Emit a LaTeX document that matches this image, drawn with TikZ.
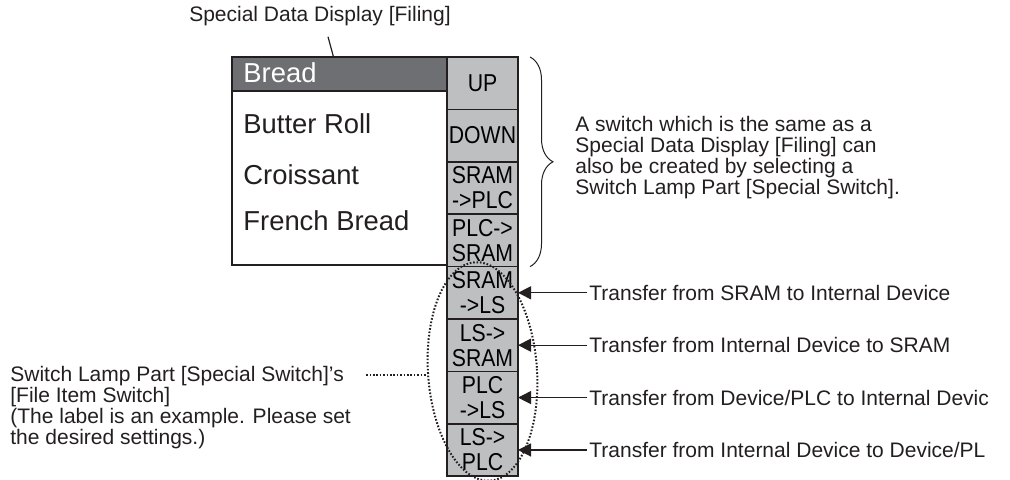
\documentclass[tikz,border=0pt]{standalone}
\usepackage{fontspec}
\setmainfont{Liberation Sans}
\newfontfamily\narrowfont[FakeStretch=0.87]{Liberation Sans}
\usepackage{xcolor}
\usetikzlibrary{positioning, arrows.meta, shapes.geometric, decorations.pathreplacing}

\definecolor{bargray}{HTML}{6E6F73}
\definecolor{btngray}{HTML}{BEBFC1}
\definecolor{ink}{HTML}{231F20}

\begin{document}
\begin{tikzpicture}[
      x=0.5pt, y=0.5pt,
      lbl/.style={
        font=\fontsize{10.5}{10.5}\selectfont,
        text=ink,
        inner sep=1pt,
        align=left
      },
      item/.style={
        font=\fontsize{13.7}{16}\selectfont,
        anchor=base west,
        inner sep=0pt
      },
      btn/.style={
        draw=ink,
        fill=btngray,
        line width=0.75pt,
        minimum width=35.5pt,
        minimum height=26.2pt,
        inner sep=0pt,
        outer sep=0pt,
        align=center,
        font=\narrowfont\fontsize{12.2}{12.5}\selectfont
      },
      arrow/.style={
        -{Triangle[length=6.5pt,width=6.5pt]},
        line width=0.6pt,
        draw=ink
      },
      dots/.style={
        draw=ink,
        line width=1pt,
        dash pattern=on 0.8pt off 0.9pt
      }
    ]
    \useasboundingbox (0,0) rectangle (1010,480);

    % list display
    \node[draw=ink, line width=0.6pt, minimum width=107.5pt, minimum height=104pt,
          inner sep=0pt, outer sep=0pt] (list) at (339.5,319) {};
    \node[fill=bargray, draw=ink, line width=0.6pt, minimum width=107.5pt, minimum height=17pt,
          inner sep=0pt, outer sep=0pt, anchor=north west] (bar) at (list.north west) {};
    \node[item, text=white] (bread) at (243,397) {Bread};
    \node[item, text=ink] (butter) at (243,346) {Butter Roll};
    \node[item, text=ink] (crois) at (243,295.5) {Croissant};
    \node[item, text=ink] (french) at (243,249) {French Bread};

    \node[lbl, anchor=base] (title) at (320,458) {Special Data Display [Filing]};
    \draw[ink, line width=0.6pt] ([xshift=4pt, yshift=-4pt]title.south) -- ([xshift=-3pt]list.north);

    % switches
    \node[btn, anchor=north west] (up) at (list.north east) {UP};
    \node[btn, below=0pt of up] (down) {DOWN};
    \node[btn, below=0pt of down] (srplc) {SRAM\\->PLC};
    \node[btn, below=0pt of srplc] (plcsr) {PLC->\\SRAM};
    \node[btn, below=0pt of plcsr] (srls) {SRAM\\->LS};
    \node[btn, below=0pt of srls] (lssr) {LS->\\SRAM};
    \node[btn, below=0pt of lssr] (plcls) {PLC\\->LS};
    \node[btn, below=0pt of plcls] (lsplc) {LS->\\PLC};

    \draw[ink, line width=0.5pt, decorate, decoration={brace, amplitude=11.5pt}]
      ([xshift=6pt]up.north east) -- ([xshift=6pt]plcsr.south east);
    \node[lbl, anchor=west] (note) at (573,322) {A switch which is the same as a\\
      Special Data Display [Filing] can\\
      also be created by selecting a\\
      Switch Lamp Part [Special Switch].};

    % transfer labels
    \node[lbl, right=34.5pt of srls] (t1) {Transfer from SRAM to Internal Device};
    \node[lbl, right=34.5pt of lssr] (t2) {Transfer from Internal Device to SRAM};
    \node[lbl, right=34.5pt of plcls] (t3) {Transfer from Device/PLC to Internal Devic};
    \node[lbl, right=34.5pt of lsplc] (t4) {Transfer from Internal Device to Device/PL};
    \draw[arrow] (t1) -- (srls);
    \draw[arrow] (t2) -- (lssr);
    \draw[arrow] (t3) -- (plcls);
    \draw[arrow] (t4) -- (lsplc);

    % file item switches
    \node[ellipse, dots, rotate=4, minimum width=54.5pt, minimum height=109.5pt, inner sep=0pt] (grp) at (482.5,108.5) {};
    \node[lbl, anchor=base west] (swlbl) at (8,35) {Switch Lamp Part [Special Switch]'s\\
      {[File Item Switch]}\\
      (The label is an example. Please set\\
      the desired settings.)};
    \coordinate (lead) at ([xshift=-30.5pt]grp.west);
    \draw[dots] (lead) -- (grp.west);

    \end{tikzpicture}
\end{document}
